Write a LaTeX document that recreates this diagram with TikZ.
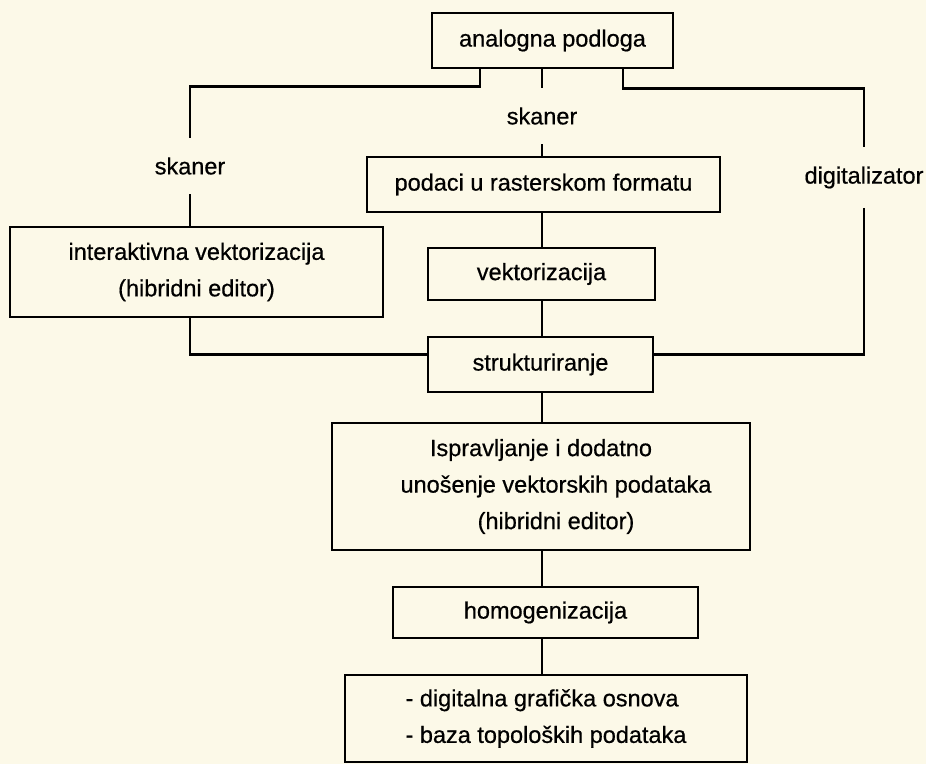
\documentclass[tikz,border=0pt]{standalone}
\usepackage{fontspec}
\setmainfont{Liberation Sans}[FakeBold=0.6]
\definecolor{papir}{RGB}{252,249,232}
\begin{document}
\begin{tikzpicture} [x=1pt, y=-1pt, line width=2.8pt,
  kutija/.style={draw, inner sep=0pt, font=\fontsize{23.5}{36.5}\selectfont},
  natpis/.style={inner xsep=4pt, inner ysep=18pt, font=\fontsize{23.5}{36.5}\selectfont}]
\path[fill=papir, use as bounding box] (0,0) rectangle (926,764);
\coordinate (os) at (542,0);
\node[kutija, minimum width=241, minimum height=55] (analog) at (552.5,40.5) {analogna podloga};
\node[kutija, minimum width=353, minimum height=55] (raster) at (543.5,184.5) {podaci u rasterskom formatu};
\node[kutija, minimum width=373, minimum height=90, align=center] (inter) at (196.5,272)
    {interaktivna vektorizacija\\(hibridni editor)};
\node[kutija, minimum width=227, minimum height=52] (vekt) at (541.5,274) {vektorizacija};
\node[kutija, minimum width=225, minimum height=55] (strukt) at (540.5,364.5) {strukturiranje};
\node[kutija, minimum width=418, minimum height=127, align=center] (isprav) at (541,486.5)
    {Ispravljanje i dodatno\\\hspace*{30pt}unošenje vektorskih podataka\\\hspace*{30pt}(hibridni editor)};
\node[kutija, minimum width=305, minimum height=51] (homog) at (545.5,612.5) {homogenizacija};
\node[kutija, minimum width=402, minimum height=87, align=left] (baza) at (546,718.5)
    {- digitalna grafička osnova\\- baza topoloških podataka};
\node[natpis] (skanL) at (190,166) {skaner};
\node[natpis] (skanC) at (542,116) {skaner};
\node[natpis] (digit) at (864,177.5) {digitalizator};
\draw ([xshift=-72.5]analog.south) -- ++(0,17) -| (skanL);
\draw (skanL) -- (inter.north -| skanL);
\draw (analog.south -| os) -- (skanC);
\draw (skanC) -- (raster.north -| skanC);
\draw ([xshift=70.5]analog.south) -- ++(0,19) -| (digit);
\draw (digit) |- ([yshift=10]strukt.east);
\draw (inter.south -| skanL) |- ([yshift=10]strukt.west);
\draw (raster.south -| os) -- (vekt.north -| os);
\draw (vekt.south -| os) -- (strukt.north -| os);
\draw (strukt.south -| os) -- (isprav.north -| os);
\draw (isprav.south -| os) -- (homog.north -| os);
\draw (homog.south -| os) -- (baza.north -| os);
\end{tikzpicture}
\end{document}
